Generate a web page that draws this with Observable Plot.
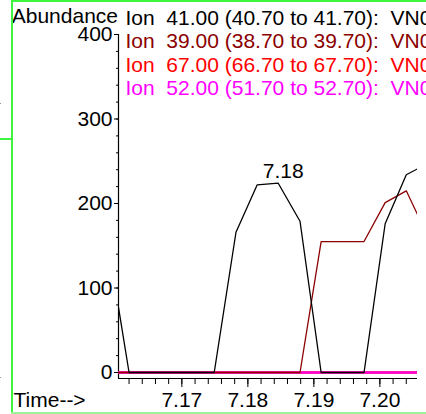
<!DOCTYPE html>
<html>
<head>
<meta charset="utf-8">
<script src="https://cdn.jsdelivr.net/npm/d3@7"></script>
<script src="https://cdn.jsdelivr.net/npm/@observablehq/plot@0.6"></script>
<style>
  html, body { margin: 0; padding: 0; background: #fff; overflow: hidden; }
  #wrap { position: relative; width: 426px; height: 414px; overflow: hidden; }
  #wrap svg text { white-space: pre; }
  .g { position: absolute; background: #3cf53c; }
  .dot { position: absolute; background: #999; width: 1px; height: 1px; }
</style>
</head>
<body>
<div id="wrap">
  <div id="chart"></div>
  <div class="g" style="left:11px; top:0; width:2px; height:414px;"></div>
  <div class="g" style="left:11px; top:0; width:415px; height:2px;"></div>
  <div class="g" style="left:0; top:138px; width:12px; height:2px;"></div>
  <div class="g" style="left:11px; top:412px; width:415px; height:2px; background:#9ef29e;"></div>
  <div class="dot" style="left:0; top:103px;"></div>
  <div class="dot" style="left:0; top:377px;"></div>
</div>
<script>
// Retention times (min), incl. the two edge points of the visible window
const times = [7.1604, 7.1620, 7.1652, 7.1685, 7.1717, 7.1749, 7.1782, 7.1814, 7.1846, 7.1879, 7.1911, 7.1943, 7.1976, 7.2008, 7.2040, 7.2057];
// Ion 41.00 abundance
const ion41 = [77, 0, 0, 0, 0, 0, 166, 222, 224, 179, 0, 0, 0, 176, 234, 241];
// Ion 39.00 abundance
const ion39 = [0, 0, 0, 0, 0, 0, 0, 0, 0, 0, 155, 155, 155, 201, 215, 187];
// Ion 67.00 abundance
const ion67 = [0, 0, 0, 0, 0, 0, 0, 0, 0, 0, 0, 0, 0, 0, 0, 0];
// Ion 52.00 abundance
const ion52 = [0, 0, 0, 0, 0, 0, 0, 0, 0, 0, 0, 0, 0, 0, 0, 0];

const legendLabels = [
  "Ion  41.00 (40.70 to 41.70):  VN01",
  "Ion  39.00 (38.70 to 39.70):  VN01",
  "Ion  67.00 (66.70 to 67.70):  VN01",
  "Ion  52.00 (51.70 to 52.70):  VN01"
];
const legendColors = ["#000000", "#8b0000", "#ff0000", "#ff00ff"];

const xDomain = [7.1604, 7.2057];
const yDomain = [0, 400];
const yTicks = [0, 100, 200, 300, 400];
const yMinorTicks = d3.range(0, 401, 20);
const xTicks = [7.17, 7.18, 7.19, 7.20];
const xMinorTicks = d3.range(0, 22).map(i => +(7.162 + i * 0.002).toFixed(3));

const peakLabel = [{time: 7.1846, value: 224, text: "7.18"}];

const toRows = arr => times.map((t, i) => ({time: t, value: arr[i]}));

const font = "'Liberation Sans', Arial, sans-serif";
const fs = 21;

const legendMarks = legendLabels.map((lab, i) =>
  Plot.text([lab], {
    frameAnchor: "top-left", text: d => d, dx: 7, dy: -16.5 + 23.5 * i,
    textAnchor: "start", lineAnchor: "middle", fill: legendColors[i], fontSize: fs
  })
);

const chart = Plot.plot({
  width: 426,
  height: 414,
  marginLeft: 118,
  marginRight: 9,
  marginTop: 34,
  marginBottom: 36,
  style: {fontFamily: font, fontSize: fs + "px", background: "transparent", overflow: "visible"},
  x: {domain: xDomain},
  y: {domain: yDomain, insetBottom: 6},
  marks: [
    // axis lines
    Plot.ruleX([xDomain[0]], {stroke: "#000", strokeWidth: 1.2}),
    Plot.ruleY([0], {dy: 6, stroke: "#000", strokeWidth: 1.2}),
    // y axis
    Plot.axisY({ticks: yMinorTicks, tickSize: 2, tickFormat: () => "", stroke: "#000", label: null}),
    Plot.axisY({ticks: yTicks, tickSize: 4, tickPadding: 2, tickFormat: d => String(d), fill: "#000", stroke: "#000", fontSize: fs, label: null}),
    // x axis
    Plot.axisX({ticks: xMinorTicks, tickSize: 6, tickFormat: () => "", stroke: "#000", label: null}),
    Plot.axisX({ticks: xTicks, tickSize: 9, tickPadding: 5, tickFormat: d => d.toFixed(2), fill: "#000", stroke: "#000", fontSize: fs, label: null}),
    // series
    Plot.line(toRows(ion67), {x: "time", y: "value", stroke: "#ff0000", strokeWidth: 2.6, clip: true}),
    Plot.line(toRows(ion52), {x: "time", y: "value", stroke: "#ff00ff", strokeWidth: 2.6, strokeOpacity: 0.85, clip: true}),
    Plot.line(toRows(ion39), {x: "time", y: "value", stroke: "#8b0000", strokeWidth: 1.3, clip: true}),
    Plot.line(toRows(ion41), {x: "time", y: "value", stroke: "#000", strokeWidth: 1.3, clip: true}),
    // peak label
    Plot.text(peakLabel, {x: "time", y: "value", text: "text", dx: 5, dy: -12, lineAnchor: "middle", textAnchor: "middle", fontSize: fs, fill: "#000"}),
    // axis titles
    Plot.text(["Abundance"], {frameAnchor: "top-left", text: d => d, dx: -0.5, dy: -18.5, textAnchor: "end", lineAnchor: "middle", fontSize: fs, fill: "#000"}),
    Plot.text(["Time-->"], {frameAnchor: "bottom-left", text: d => d, dx: -105, dy: 22, textAnchor: "start", lineAnchor: "middle", fontSize: fs, fill: "#000"}),
    ...legendMarks
  ]
});
document.getElementById("chart").appendChild(chart);
</script>
</body>
</html>
